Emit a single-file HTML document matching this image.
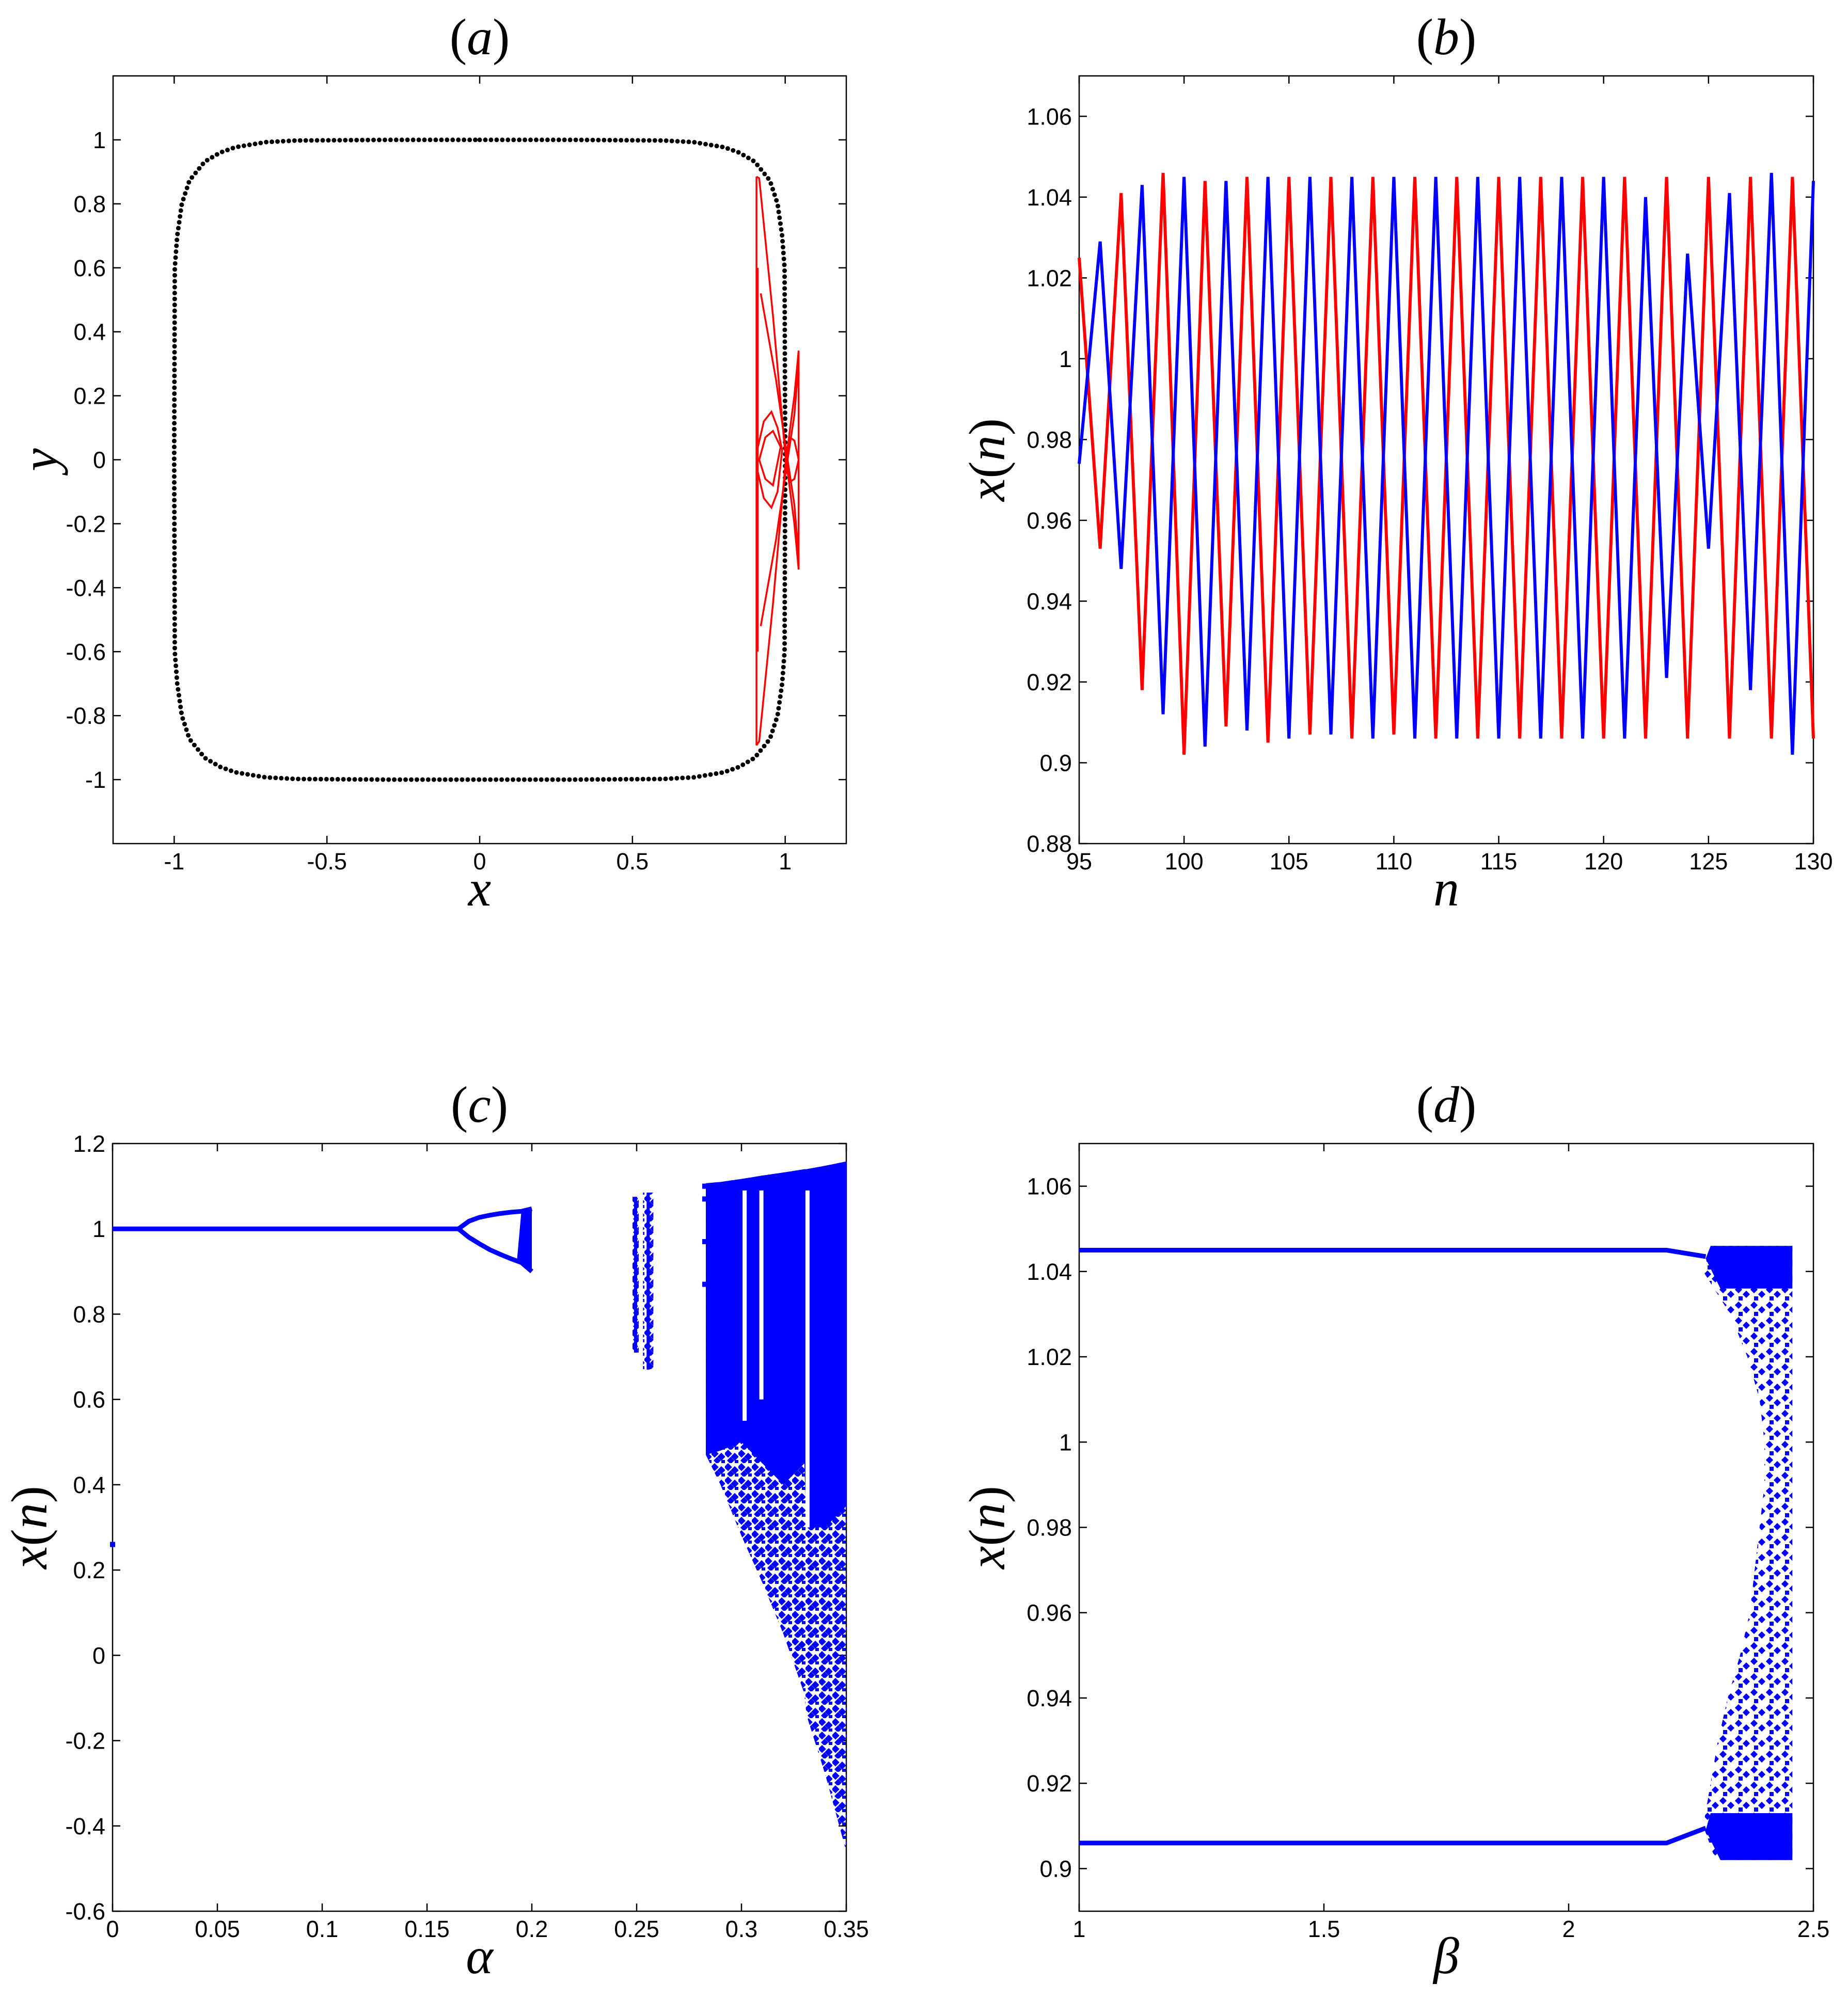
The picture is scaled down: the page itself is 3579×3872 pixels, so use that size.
<!DOCTYPE html>
<html><head><meta charset="utf-8"><style>
html,body{margin:0;padding:0;background:#fff}
svg{display:block}
text{font-family:"Liberation Sans",sans-serif}
.tk{font-size:45px;fill:#000}
.ti{font-family:"Liberation Serif",serif;font-size:100px}
</style></head><body>
<svg id="fig" width="3579" height="3872" viewBox="0 0 3579 3872" xmlns="http://www.w3.org/2000/svg">
<defs>
<pattern id="sparse" width="26" height="26" patternUnits="userSpaceOnUse">
<rect x="1" y="2" width="11" height="11" fill="#0000ff" transform="rotate(45 6 7)"/>
<rect x="14" y="8" width="11" height="11" fill="#0000ff" transform="rotate(45 19 13)"/>
<rect x="6" y="16" width="10" height="10" fill="#0000ff" transform="rotate(45 11 21)"/>
<rect x="19" y="20" width="7" height="6" fill="#0000ff"/>
</pattern>
<pattern id="sparse2" width="30" height="30" patternUnits="userSpaceOnUse">
<rect x="2" y="3" width="10" height="10" fill="#0000ff" transform="rotate(45 7 8)"/>
<rect x="17" y="12" width="10" height="10" fill="#0000ff" transform="rotate(45 22 17)"/>
<rect x="7" y="21" width="8" height="8" fill="#0000ff"/>
</pattern>
</defs>
</svg>
<script>
// ---------- data ----------
// panel (a)
const quarterX = [0,0.3,0.6,0.7,0.8,0.85,0.9,0.95,0.975,0.99,0.998,1];
const quarterY = [1,1,0.998,0.993,0.977,0.96,0.932,0.873,0.8,0.7,0.6,0];
const redPaths = [
  [[0.906,0.885],[0.906,-0.893]],
  [[0.91,0.6],[0.91,-0.6]],
  [[1.044,0.341],[1.044,-0.343]],
  [[0.906,0.885],[0.915,0.88],[0.96,0.45],[1.0,0.02],[1.03,-0.2],[1.044,-0.343]],
  [[0.906,-0.893],[0.915,-0.88],[0.96,-0.45],[1.0,-0.02],[1.03,0.2],[1.044,0.341]],
  [[0.92,0.52],[0.97,0.25],[1.0,0.05],[1.03,-0.14],[1.044,-0.3]],
  [[0.92,-0.52],[0.97,-0.25],[1.0,-0.05],[1.03,0.14],[1.044,0.3]],
  [[0.906,0.02],[0.93,0.12],[0.955,0.15],[0.975,0.1],[0.99,0.03],[0.975,-0.1],[0.955,-0.15],[0.93,-0.12],[0.906,-0.02]],
  [[0.915,0.0],[0.935,0.07],[0.96,0.09],[0.985,0.04],[0.96,-0.08],[0.935,-0.06],[0.915,0.0]],
  [[1.0,0.0],[1.015,0.07],[1.03,0.06],[1.044,0.0],[1.03,-0.06],[1.015,-0.07],[1.0,0.0]]
];
// panel (b)
const nValues = [95,96,97,98,99,100,101,102,103,104,105,106,107,108,109,110,111,112,113,114,115,116,117,118,119,120,121,122,123,124,125,126,127,128,129,130];
const redSeries = [1.025,0.953,1.041,0.918,1.046,0.902,1.044,0.909,1.045,0.905,1.045,0.907,1.045,0.906,1.045,0.907,1.045,0.906,1.045,0.906,1.045,0.906,1.045,0.906,1.045,0.906,1.045,0.906,1.045,0.906,1.045,0.906,1.045,0.906,1.045,0.906];
const blueSeries = [0.974,1.029,0.948,1.043,0.912,1.045,0.904,1.044,0.908,1.045,0.906,1.045,0.907,1.045,0.906,1.045,0.906,1.045,0.906,1.045,0.906,1.045,0.906,1.045,0.906,1.045,0.906,1.040,0.921,1.026,0.953,1.041,0.918,1.046,0.902,1.044];
// panel (c)
const alphaFixed = [0,0.165];
const fixedVal = [1,1];
const alphaP2 = [0.165,0.17,0.175,0.18,0.185,0.19,0.195,0.2];
const p2Upper = [1,1.018,1.027,1.032,1.036,1.039,1.041,1.047];
const p2Lower = [1,0.98,0.965,0.951,0.94,0.93,0.921,0.9];
const stripAlpha = [0.2495,0.2555];
const stripTop = [1.075,1.085];
const stripBottom = [0.71,0.67];
const chaosAlpha = [0.283,0.29,0.30,0.31,0.32,0.33,0.331,0.34,0.35];
const chaosTop = [1.107,1.11,1.117,1.125,1.132,1.14,1.14,1.148,1.158];
const chaosDenseBottom = [0.47,0.48,0.5,0.45,0.4,0.45,0.3,0.3,0.35];
const chaosLower = [0.47,0.4,0.28,0.17,0.05,-0.09,-0.14,-0.28,-0.46];
const windowAlpha = [0.3015,0.3095,0.3315];
const windowBottom = [0.55,0.6,0.3];
const loneAlpha = [0,0.2825,0.2825,0.2825,0.2825];
const loneVal = [0.26,1.1,1.07,0.97,0.87];
// panel (d)
const betaLine = [1,2.2,2.28];
const upperLine = [1.045,1.045,1.0435];
const lowerLine = [0.906,0.906,0.9095];
const chaosY = [1.046,1.04,1.03,1.02,1.01,1.0,0.99,0.98,0.97,0.96,0.95,0.94,0.93,0.92,0.91,0.902];
const chaosLeftBeta = [2.29,2.275,2.33,2.365,2.39,2.40,2.40,2.39,2.38,2.37,2.35,2.325,2.305,2.29,2.275,2.3];
const betaRight = 2.457;
const denseTopY = [1.046,1.043,1.036];
const denseTopLeft = [2.29,2.28,2.31];
const denseBotY = [0.913,0.909,0.902];
const denseBotLeft = [2.29,2.28,2.31];

// ---------- drawing ----------
const NS = 'http://www.w3.org/2000/svg';
const svg = document.getElementById('fig');
function el(tag, attrs, parent){
  const e = document.createElementNS(NS, tag);
  for (const k in attrs) e.setAttribute(k, attrs[k]);
  (parent||svg).appendChild(e);
  return e;
}
function scale(d0,d1,r0,r1){return v => r0 + (v-d0)/(d1-d0)*(r1-r0);}

function axes(p){
  const g = el('g', {});
  
  
  const sx = scale(p.xd[0],p.xd[1],p.x0,p.x1), sy = scale(p.yd[0],p.yd[1],p.y1,p.y0);
  const box = el('rect', {x:p.x0,y:p.y0,width:p.x1-p.x0,height:p.y1-p.y0,fill:'none',stroke:'#000','stroke-width':2.5}, g);
  
  
  p.xt.forEach((t,i)=>{
    const x = sx(t);
    el('line',{x1:x,x2:x,y1:p.y1,y2:p.y1-15,stroke:'#000','stroke-width':2.5},g);
    el('line',{x1:x,x2:x,y1:p.y0,y2:p.y0+15,stroke:'#000','stroke-width':2.5},g);
    const tx = el('text',{x:x,y:p.y1+50,'text-anchor':'middle',class:'tk'},g);
    tx.textContent = p.xl[i];
    
    
  });
  p.yt.forEach((t,i)=>{
    const y = sy(t);
    el('line',{x1:p.x0,x2:p.x0+15,y1:y,y2:y,stroke:'#000','stroke-width':2.5},g);
    el('line',{x1:p.x1,x2:p.x1-15,y1:y,y2:y,stroke:'#000','stroke-width':2.5},g);
    const tx = el('text',{x:p.x0-14,y:y+16,'text-anchor':'end',class:'tk'},g);
    tx.textContent = p.yl[i];
    
    
  });
  const cx = (p.x0+p.x1)/2;
  const title = el('text',{x:cx,y:p.y0-42,'text-anchor':'middle',class:'ti'},g);
  title.innerHTML = '(<tspan font-style="italic">'+p.letter+'</tspan>)';
  
  
  const xl = el('text',{x:cx,y:p.y1+120,'text-anchor':'middle',class:'ti','font-size':105},g);
  xl.innerHTML = p.xlab;
  
  
  const yc = (p.y0+p.y1)/2;
  const yl = el('text',{x:0,y:0,'text-anchor':'middle',class:'ti','font-size':105,transform:'translate('+(p.ylx)+','+yc+') rotate(-90)'},g);
  yl.innerHTML = p.ylab;
  
  
  return {sx, sy, g};
}
function labs(a,b,s){const r=[];for(let v=a;v<=b+1e-9;v+=s)r.push(+v.toFixed(4));return r;}
const xn = '<tspan font-style="italic">x</tspan>(<tspan font-style="italic">n</tspan>)';

// Panel A
const yA = labs(-1,1,0.2);
const A = axes({name:'panel-a',letter:'a',x0:219,x1:1639,y0:147,y1:1634,xd:[-1.2,1.2],yd:[-1.2,1.2],
  xt:[-1,-0.5,0,0.5,1],xl:['-1','-0.5','0','0.5','1'],yt:yA,yl:yA.map(v=>String(v)),
  xlab:'<tspan font-style="italic">x</tspan>',ylab:'<tspan font-style="italic">y</tspan>',ylx:110});
(function(){
  const q1 = quarterX.map((x,i)=>[x,quarterY[i]]);
  const q4 = q1.slice().reverse().map(p=>[p[0],-p[1]]);
  const q3 = q1.map(p=>[-p[0],-p[1]]);
  const q2 = q1.slice().reverse().map(p=>[-p[0],p[1]]);
  const loop = q1.concat(q4.slice(1), q3.slice(1), q2.slice(1));
  const g = el('g',{fill:'#000'},A.g);
  
  
  const step = 0.0185;
  let carry = 0;
  for (let i=0;i<loop.length-1;i++){
    const [xa,ya]=loop[i],[xb,yb]=loop[i+1];
    const L = Math.hypot(xb-xa,yb-ya);
    let t = carry;
    while (t < L){
      const f = t/L;
      el('circle',{cx:A.sx(xa+(xb-xa)*f),cy:A.sy(ya+(yb-ya)*f),r:4.5},g);
      t += step;
    }
    carry = t - L;
  }
  const rg = el('g',{fill:'none',stroke:'#ff0000','stroke-width':3.5},A.g);
  
  
  redPaths.forEach(p=>{
    const path = el('polyline',{points:p.map(q=>A.sx(q[0])+','+A.sy(q[1])).join(' ')},rg);
    
    
  });
})();

// Panel B
const yB = labs(0.88,1.06,0.02);
const B = axes({name:'panel-b',letter:'b',x0:2090,x1:3512,y0:147,y1:1634,xd:[95,130],yd:[0.88,1.07],
  xt:labs(95,130,5),xl:labs(95,130,5).map(String),yt:yB,yl:yB.map(String),
  xlab:'<tspan font-style="italic">n</tspan>',ylab:xn,ylx:1945});
(function(){
  const r = el('polyline',{points:nValues.map((n,i)=>B.sx(n)+','+B.sy(redSeries[i])).join(' '),fill:'none',stroke:'#ff0000','stroke-width':6,'stroke-linejoin':'miter'},B.g);
  
  
  const b = el('polyline',{points:nValues.map((n,i)=>B.sx(n)+','+B.sy(blueSeries[i])).join(' '),fill:'none',stroke:'#0000ff','stroke-width':6,'stroke-linejoin':'miter'},B.g);
  
  
})();

// Panel C
const yC = labs(-0.6,1.2,0.2);
const xC = labs(0,0.35,0.05);
const C = axes({name:'panel-c',letter:'c',x0:218,x1:1639,y0:2215,y1:3702,xd:[0,0.35],yd:[-0.6,1.2],
  xt:xC,xl:xC.map(String),yt:yC,yl:yC.map(String),
  xlab:'<tspan font-style="italic">α</tspan>',ylab:xn,ylx:90});
(function(){
  const g = el('g',{},C.g);
  
  
  const fl = el('line',{x1:C.sx(alphaFixed[0]),x2:C.sx(alphaFixed[1]),y1:C.sy(fixedVal[0]),y2:C.sy(fixedVal[1]),stroke:'#0000ff','stroke-width':9},g);
  
  
  const up = el('polyline',{points:alphaP2.map((a,i)=>C.sx(a)+','+C.sy(p2Upper[i])).join(' '),fill:'none',stroke:'#0000ff','stroke-width':9},g);
  
  
  const lo = el('polyline',{points:alphaP2.map((a,i)=>C.sx(a)+','+C.sy(p2Lower[i])).join(' '),fill:'none',stroke:'#0000ff','stroke-width':9},g);
  
  
  const n = alphaP2.length;
  const band = el('polygon',{points:[
    [alphaP2[n-2],p2Upper[n-2]],[alphaP2[n-1],p2Upper[n-1]],[alphaP2[n-1],p2Lower[n-1]],[alphaP2[n-2],p2Lower[n-2]],
    [alphaP2[n-2]-0.002,(p2Lower[n-2]+p2Upper[n-2])/2-0.05]
  ].map(q=>C.sx(q[0])+','+C.sy(q[1])).join(' '),fill:'#0000ff'},g);
  
  
  stripAlpha.forEach((a,i)=>{
    const s = el('rect',{x:C.sx(a)-(i?10:6),y:C.sy(stripTop[i]),width:i?20:12,height:C.sy(stripBottom[i])-C.sy(stripTop[i]),fill:'url(#sparse)'},g);
    
    
    const s2 = el('rect',{x:C.sx(a)-3,y:C.sy(stripTop[i]),width:6,height:C.sy(stripBottom[i])-C.sy(stripTop[i]),fill:'#0000ff'},g);
    
    
  });
  const top = chaosAlpha.map((a,i)=>C.sx(a)+','+C.sy(chaosTop[i]));
  const low = chaosAlpha.map((a,i)=>C.sx(a)+','+C.sy(chaosLower[i])).reverse();
  const sp = el('polygon',{points:top.concat(low).join(' '),fill:'url(#sparse)'},g);
  
  
  const dl = chaosAlpha.map((a,i)=>C.sx(a)+','+C.sy(chaosDenseBottom[i])).reverse();
  const dn = el('polygon',{points:top.concat(dl).join(' '),fill:'#0000ff'},g);
  
  
  windowAlpha.forEach((a,i)=>{
    const w = el('rect',{x:C.sx(a)-4,y:C.sy(1.09),width:8,height:C.sy(windowBottom[i])-C.sy(1.09),fill:'#fff'},g);
    
    
  });
  loneAlpha.forEach((a,i)=>{
    const c = el('rect',{x:C.sx(a)-5,y:C.sy(loneVal[i])-5,width:10,height:10,fill:'#0000ff'},g);
    
    
  });
})();

// Panel D
const yD = labs(0.9,1.06,0.02);
const D = axes({name:'panel-d',letter:'d',x0:2090,x1:3512,y0:2215,y1:3702,xd:[1,2.5],yd:[0.89,1.07],
  xt:[1,1.5,2,2.5],xl:['1','1.5','2','2.5'],yt:yD,yl:yD.map(String),
  xlab:'<tspan font-style="italic">β</tspan>',ylab:xn,ylx:1945});
(function(){
  const g = el('g',{},D.g);
  
  
  const u = el('polyline',{points:betaLine.map((b,i)=>D.sx(b)+','+D.sy(upperLine[i])).join(' '),fill:'none',stroke:'#0000ff','stroke-width':9},g);
  
  
  const l = el('polyline',{points:betaLine.map((b,i)=>D.sx(b)+','+D.sy(lowerLine[i])).join(' '),fill:'none',stroke:'#0000ff','stroke-width':9},g);
  
  
  const left = chaosY.map((y,i)=>D.sx(chaosLeftBeta[i])+','+D.sy(y));
  const right = chaosY.slice().reverse().map(y=>D.sx(betaRight)+','+D.sy(y));
  const sp = el('polygon',{points:left.concat(right).join(' '),fill:'url(#sparse2)'},g);
  
  
  const tl = denseTopY.map((y,i)=>D.sx(denseTopLeft[i])+','+D.sy(y));
  const tr = denseTopY.slice().reverse().map(y=>D.sx(betaRight)+','+D.sy(y));
  const dt = el('polygon',{points:tl.concat(tr).join(' '),fill:'#0000ff'},g);
  
  
  const bl = denseBotY.map((y,i)=>D.sx(denseBotLeft[i])+','+D.sy(y));
  const br = denseBotY.slice().reverse().map(y=>D.sx(betaRight)+','+D.sy(y));
  const db = el('polygon',{points:bl.concat(br).join(' '),fill:'#0000ff'},g);
  
  
})();
</script>
</body></html>
